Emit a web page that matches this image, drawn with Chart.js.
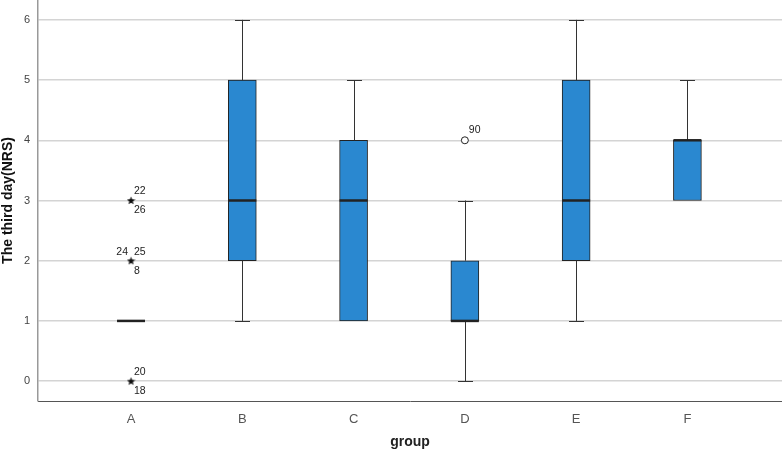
<!DOCTYPE html>
<html>
<head>
<meta charset="utf-8">
<script src="https://cdn.jsdelivr.net/npm/chart.js@4.4.1/dist/chart.umd.min.js"></script>
<style>
  html, body { margin: 0; background: #fff; }
  #wrap { width: 782px; height: 455px; }
</style>
</head>
<body>
<div id="wrap"><canvas id="boxChart"></canvas></div>
<script>
// box plot values per group
const groups = ['A', 'B', 'C', 'D', 'E', 'F'];
const whiskerLow = [1, 1, 1, 0, 1, 3];
const boxLow = [1, 2, 1, 1, 2, 3];
const medians = [1, 3, 3, 1, 3, 4];
const boxHigh = [1, 5, 4, 2, 5, 4];
const whiskerHigh = [1, 6, 5, 3, 6, 5];

// extremes (stars) and outliers (circles)
const extremeGroup = [0, 0, 0];
const extremeValues = [3, 2, 0];
const extremeCases = [['22', '26'], ['24', '25', '8'], ['20', '18']];
const outlierGroup = [3];
const outlierValues = [4];
const outlierCases = ['90'];

const yTicks = [0, 1, 2, 3, 4, 5, 6];

const FONT = "'Liberation Sans', Arial, sans-serif";

// small filled star used as point style
function makeStar() {
    const c = document.createElement('canvas');
    c.width = 9; c.height = 9;
    const g = c.getContext('2d');
    g.fillStyle = '#111';
    g.beginPath();
    for (let i = 0; i < 10; i++) {
        const r = i % 2 === 0 ? 4.4 : 1.9;
        const a = -Math.PI / 2 + i * Math.PI / 5;
        const px = 4.5 + r * Math.cos(a), py = 4.8 + r * Math.sin(a);
        i === 0 ? g.moveTo(px, py) : g.lineTo(px, py);
    }
    g.closePath();
    g.fill();
    return c;
}

// whiskers, caps, medians and case labels
const boxExtras = {
    id: 'boxExtras',
    afterDatasetsDraw(chart) {
        const { ctx, scales: { x, y } } = chart;
        ctx.save();
        ctx.strokeStyle = '#333';
        ctx.lineWidth = 1;
        groups.forEach((g, i) => {
            const cx = Math.round(x.getPixelForValue(i)) + 0.5;
            const segs = [[whiskerLow[i], boxLow[i]], [boxHigh[i], whiskerHigh[i]]];
            segs.forEach(([a, b]) => {
                if (a === b) return;
                ctx.beginPath();
                ctx.moveTo(cx, y.getPixelForValue(a));
                ctx.lineTo(cx, y.getPixelForValue(b));
                ctx.stroke();
            });
            [whiskerLow[i], whiskerHigh[i]].forEach((v, k) => {
                if (k === 0 && v === boxLow[i]) return;
                if (k === 1 && v === boxHigh[i]) return;
                const py = Math.round(y.getPixelForValue(v)) + 0.5;
                ctx.beginPath();
                ctx.moveTo(cx - 7.5, py);
                ctx.lineTo(cx + 7.5, py);
                ctx.stroke();
            });
        });
        // medians
        ctx.strokeStyle = '#222';
        ctx.lineWidth = 2.5;
        groups.forEach((g, i) => {
            const cx = x.getPixelForValue(i);
            const py = y.getPixelForValue(medians[i]);
            ctx.beginPath();
            ctx.moveTo(cx - 14, py);
            ctx.lineTo(cx + 14, py);
            ctx.stroke();
        });
        // case numbers
        ctx.fillStyle = '#222';
        ctx.font = '10.5px ' + FONT;
        ctx.textBaseline = 'middle';
        extremeValues.forEach((v, i) => {
            const px = x.getPixelForValue(extremeGroup[i]);
            const py = y.getPixelForValue(v);
            const cases = extremeCases[i];
            if (cases.length === 3) {
                ctx.textAlign = 'right';
                ctx.fillText(cases[0], px - 3, py - 9);
                ctx.textAlign = 'left';
                ctx.fillText(cases[1], px + 3, py - 9);
                ctx.fillText(cases[2], px + 3, py + 10);
            } else {
                ctx.textAlign = 'left';
                ctx.fillText(cases[0], px + 3, py - 9);
                ctx.fillText(cases[1], px + 3, py + 10);
            }
        });
        outlierValues.forEach((v, i) => {
            const px = x.getPixelForValue(outlierGroup[i]);
            const py = y.getPixelForValue(v);
            ctx.textAlign = 'left';
            ctx.fillText(outlierCases[i], px + 4, py - 10);
        });
        ctx.restore();
    }
};

new Chart(document.getElementById('boxChart'), {
    data: {
        datasets: [
            {
                type: 'bar',
                data: groups.map((g, i) => ({ x: i, y: [boxLow[i], boxHigh[i]] })),
                backgroundColor: '#2a88d0',
                borderColor: '#222',
                borderWidth: 1,
                borderSkipped: false,
                barThickness: 28,
                order: 2
            },
            {
                type: 'scatter',
                data: extremeValues.map((v, i) => ({ x: extremeGroup[i], y: v })),
                pointStyle: makeStar(),
                order: 1
            },
            {
                type: 'scatter',
                data: outlierValues.map((v, i) => ({ x: outlierGroup[i], y: v })),
                pointStyle: 'circle',
                pointRadius: 3.5,
                backgroundColor: '#fff',
                borderColor: '#222',
                borderWidth: 1,
                order: 1
            }
        ]
    },
    options: {
        responsive: true,
        maintainAspectRatio: false,
        animation: false,
        layout: { padding: 0, autoPadding: false },
        plugins: { legend: { display: false }, tooltip: { enabled: false } },
        scales: {
            x: {
                type: 'linear',
                offset: false,
                min: -0.836,
                max: 5.85,
                afterBuildTicks: s => { s.ticks = groups.map((g, i) => ({ value: i })); },
                afterFit: s => { s.height = 54; s.paddingLeft = 0; s.paddingRight = 0; },
                grid: { display: false, drawTicks: false },
                border: { color: '#555', width: 1 },
                ticks: {
                    callback: v => groups[v],
                    color: '#555',
                    padding: 11,
                    font: { family: FONT, size: 13 }
                },
                title: {
                    display: true,
                    text: 'group',
                    color: '#222',
                    padding: { top: 9 },
                    font: { family: FONT, size: 14, weight: 'bold' }
                }
            },
            y: {
                min: -0.33,
                max: 6.33,
                afterBuildTicks: s => { s.ticks = yTicks.map(v => ({ value: v })); },
                afterFit: s => { s.width = 38; s.paddingTop = 0; s.paddingBottom = 0; },
                grid: { color: '#d4d4d4', lineWidth: 1.5, drawTicks: false },
                border: { color: '#999', width: 1.5 },
                ticks: {
                    color: '#444',
                    padding: 8,
                    font: { family: FONT, size: 11 }
                },
                title: {
                    display: true,
                    text: 'The third day(NRS)',
                    color: '#111',
                    padding: 0,
                    font: { family: FONT, size: 14, weight: 'bold' }
                }
            }
        }
    },
    plugins: [boxExtras]
});
</script>
</body>
</html>
